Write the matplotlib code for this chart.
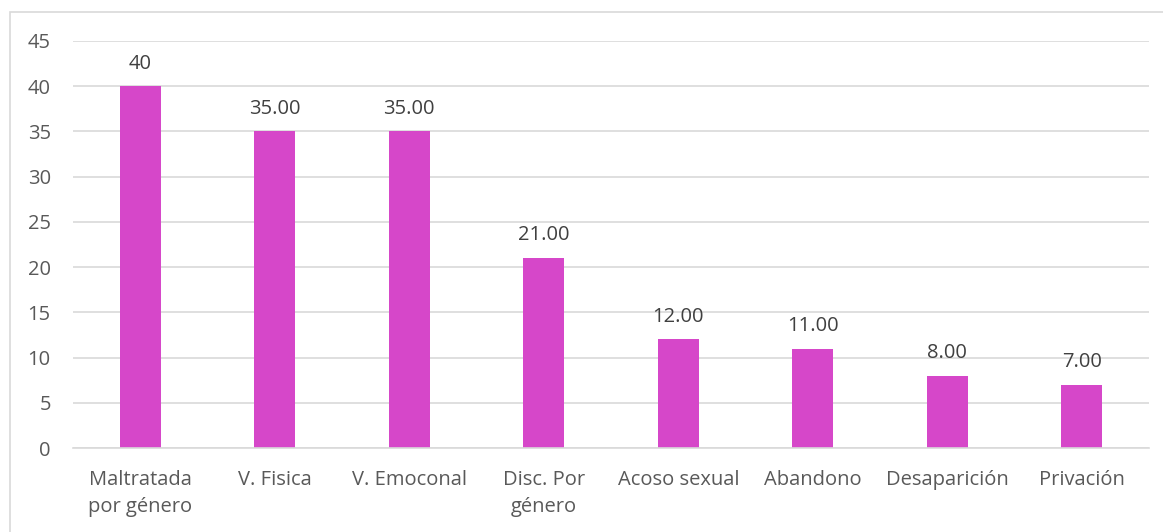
import matplotlib.pyplot as plt
from matplotlib.patches import Rectangle

# data
categorias = ['Maltratada\npor género', 'V. Fisica', 'V. Emoconal', 'Disc. Por\ngénero',
              'Acoso sexual', 'Abandono', 'Desaparición', 'Privación']
valores = [40, 35, 35, 21, 12, 11, 8, 7]
etiquetas = ['40', '35.00', '35.00', '21.00', '12.00', '11.00', '8.00', '7.00']

plt.rcParams['font.family'] = ['Open Sans', 'DejaVu Sans']
gris = '#595959'

W, H = 1163, 532
fig = plt.figure(figsize=(W / 100, H / 100), dpi=100)
ax = fig.add_axes([73 / W, 1 - 448 / H, (1149 - 73) / W, (448 - 41) / H])

x = range(len(categorias))
ax.bar(x, valores, width=0.305, color='#D647C9', zorder=3)

for i, v in enumerate(valores):
    ax.text(i, v + 1.4, etiquetas[i], ha='center', va='bottom', fontsize=14.5, color='#404040')

ax.set_xlim(-0.5, len(categorias) - 0.5)
ax.set_ylim(0, 45)
ax.set_yticks(range(0, 50, 5))
ax.set_xticks(list(x))
ax.set_xticklabels(categorias, fontsize=14.5, color=gris, linespacing=1.45, va='top', ha='center')
ax.tick_params(axis='y', labelsize=14.5, labelcolor=gris, length=0, pad=16)
ax.tick_params(axis='x', length=0, pad=16)
ax.grid(axis='y', color='#D9D9D9', linewidth=1.2, zorder=0)
for s in ['top', 'right', 'left']:
    ax.spines[s].set_visible(False)
ax.spines['bottom'].set_color('#D9D9D9')
ax.spines['bottom'].set_linewidth(1.2)
ax.spines['bottom'].set_zorder(4)

# chart area border (only left and top fall inside the picture)
fig.patches.append(Rectangle((10 / W, -0.1), 1.1, 1 - 12 / H + 0.1, transform=fig.transFigure,
                             fill=False, edgecolor='#D9D9D9', linewidth=1.2))

fig.savefig('out.png', dpi=100)
